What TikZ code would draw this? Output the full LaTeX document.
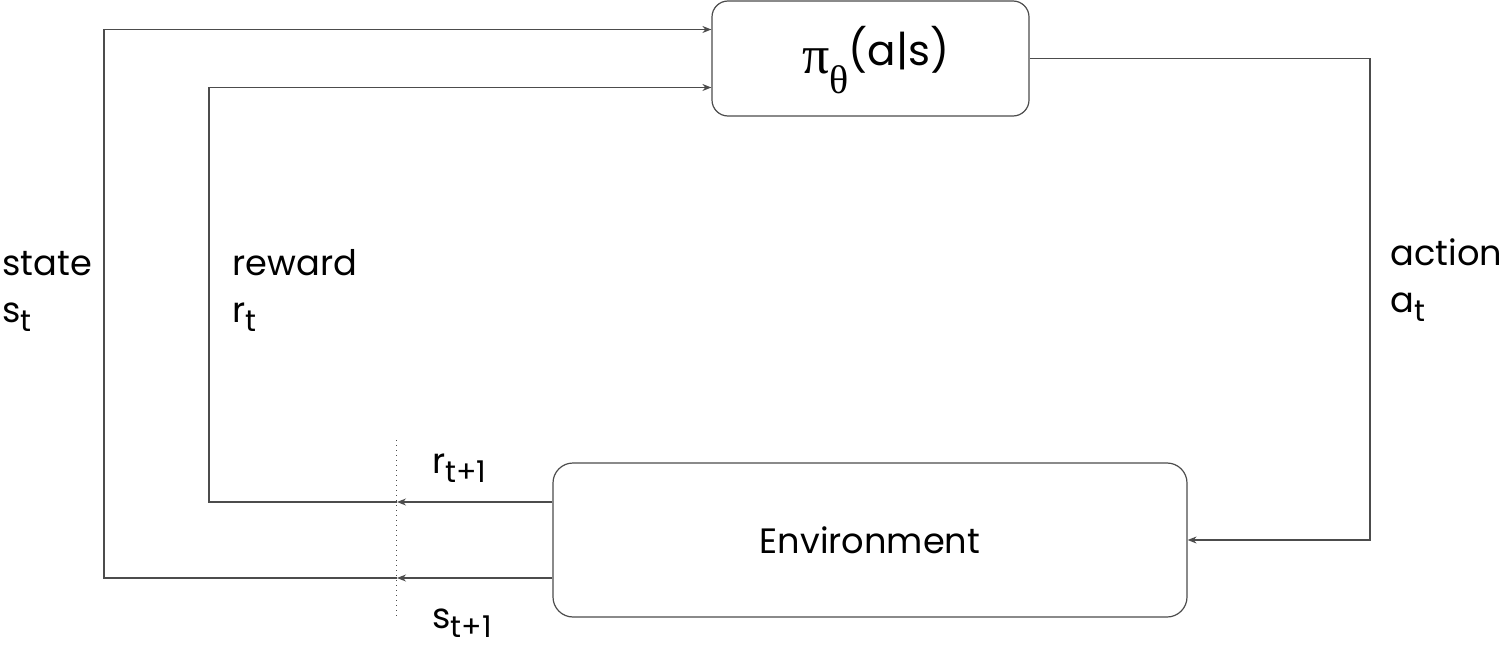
\documentclass[tikz,border=0pt]{standalone}
\usepackage{fontspec}
\setmainfont{Poppins}
\newfontfamily\grk{Liberation Serif}
\usetikzlibrary{arrows.meta}
\tikzset{
  box/.style={draw=black!70, line width=0.6pt, rounded corners=8pt, inner sep=0pt},
  conn/.style={draw=black!70, line width=0.6pt},
  arr/.style={conn, -{Stealth[length=4.5pt,width=3.5pt]}},
  lbl/.style={font=\fontsize{17.6}{23.5}\selectfont, inner sep=0pt, align=left},
}
\newcommand{\sbt}[1]{\raisebox{-0.5ex}{\fontsize{15}{15}\selectfont #1}}
\begin{document}
\begin{tikzpicture}[x=0.5pt,y=-0.5pt]
\useasboundingbox (0,0) rectangle (1500,658);
\node[box, minimum width=158.5pt, minimum height=57.5pt] (pol) at (870.5,58.5) {};
\node[inner sep=0pt] (poltext) at (876,60)
  {\fontsize{21}{21}\selectfont{\fontsize{27}{27}\selectfont\grk π}\raisebox{-0.9ex}{\fontsize{20}{20}\selectfont\grk θ}\raisebox{0.35ex}{(a|s)}};
\node[box, minimum width=317pt, minimum height=77pt, rounded corners=10pt] (env) at (870,540)
  {\fontsize{17.6}{17.6}\selectfont Environment};
% cut coordinates on dotted line
\coordinate (rcut) at (397,502);
\coordinate (scut) at (397,578);
\coordinate (rx) at (209,0);
\coordinate (sx) at (104,0);
\coordinate (ax) at (1370,0);
\draw[dotted, conn, line width=0.5pt] (396,440) -- (396,618);
% reward
\draw[arr] ([yshift=19pt]env.west) -- (rcut);
\draw[arr] (rcut) -- (rx |- rcut) |- ([yshift=-14.5pt]pol.west);
% state
\draw[arr] ([yshift=-19pt]env.west) -- (scut);
\draw[arr] (scut) -- (sx |- scut) |- ([yshift=14.5pt]pol.west);
% action
\draw[arr] (pol.east) -| (ax |- env.east) -- (env.east);
% labels
\node[lbl, anchor=base west] (lstate) at (2,322) {state\\s\sbt{t}};
\node[lbl, anchor=base west] (lreward) at (232,322) {reward\\r\sbt{t}};
\node[lbl, anchor=base west] (laction) at (1390,312) {action\\a\sbt{t}};
\node[lbl, anchor=base west] (lr1) at (432,473) {r\sbt{t+1}};
\node[lbl, anchor=base west] (ls1) at (432,628) {s\sbt{t+1}};
\end{tikzpicture}
\end{document}
